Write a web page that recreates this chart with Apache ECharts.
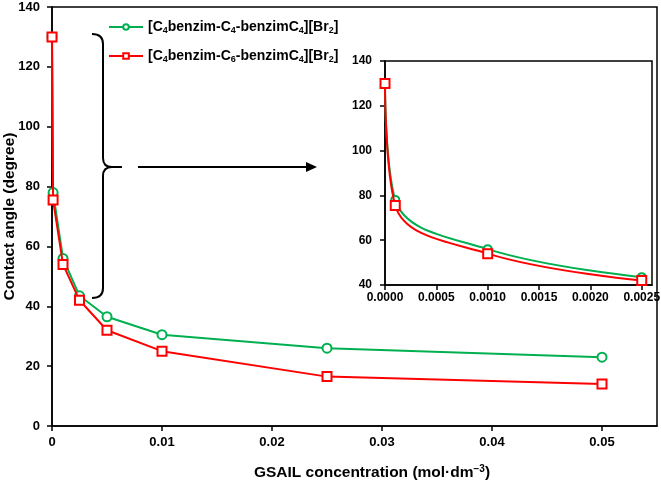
<!DOCTYPE html>
<html>
<head>
<meta charset="utf-8">
<script src="https://cdn.jsdelivr.net/npm/echarts@6/dist/echarts.min.js"></script>
<style>html,body{margin:0;padding:0;background:#fff}#c{width:661px;height:481px}</style>
</head>
<body>
<div id="c"></div>
<script>
// Data
const xConc = [0, 0.0001, 0.001, 0.0025, 0.005, 0.01, 0.025, 0.05];
const angleC4 = [130, 78, 56, 43.5, 36.5, 30.5, 26, 23];
const angleC6 = [130, 75.5, 54, 42, 32, 25, 16.5, 14];
const insetCount = 4;
const mainYTicks = [0, 20, 40, 60, 80, 100, 120, 140];
const mainXTicks = [0, 0.01, 0.02, 0.03, 0.04, 0.05];
const insetYTicks = [40, 60, 80, 100, 120, 140];
const insetXTicks = [0, 0.0005, 0.001, 0.0015, 0.002, 0.0025];
const seriesNames = ['C4', 'C6'];

const GREEN = '#00B050';
const RED = '#FF0000';
const FONT = 'Liberation Sans, Arial, sans-serif';

const pairs = (xs, ys, n) => xs.slice(0, n).map((x, i) => [x, ys[i]]);

const chart = echarts.init(document.getElementById('c'), null, {renderer: 'canvas'});

const axisCommon = {
  axisLine: {show: true, onZero: false, lineStyle: {color: '#000', width: 1.5}},
  axisTick: {show: true, inside: false, length: 5, lineStyle: {color: '#000', width: 1.5}},
  splitLine: {show: false}
};

const legendRich = {
  m: {fontSize: 14, fontWeight: 'bold', fontFamily: FONT, color: '#000', lineHeight: 16},
  s: {fontSize: 9, fontWeight: 'bold', fontFamily: FONT, color: '#000', lineHeight: 10, verticalAlign: 'bottom'}
};

const legendLabel = {
  C4: '{m|[C}{s|4}{m|benzim-C}{s|4}{m|-benzimC}{s|4}{m|][Br}{s|2}{m|]}',
  C6: '{m|[C}{s|4}{m|benzim-C}{s|6}{m|-benzimC}{s|4}{m|][Br}{s|2}{m|]}'
};

const stroke = {stroke: '#000', lineWidth: 2, fill: null};
const bez = (x1, y1, cx, cy, x2, y2) => ({type: 'bezierCurve', z: 10, silent: true,
  shape: {x1, y1, cpx1: cx, cpy1: cy, x2, y2}, style: stroke});
const seg = (x1, y1, x2, y2) => ({type: 'line', z: 10, silent: true, shape: {x1, y1, x2, y2}, style: stroke});

const gridCommon = {show: true, borderColor: '#000', borderWidth: 1.5, containLabel: false, outerBoundsMode: 'none'};

const option = {
  backgroundColor: '#fff',
  animation: false,
  grid: [
    Object.assign({left: 52, top: 7, right: 4, bottom: 55, backgroundColor: 'transparent'}, gridCommon),
    Object.assign({left: 385, top: 61, right: 9, bottom: 196, backgroundColor: '#fff'}, gridCommon)
  ],
  legend: {
    data: seriesNames,
    orient: 'vertical',
    left: 108,
    top: 20,
    padding: 0,
    itemWidth: 34,
    itemHeight: 7,
    itemGap: 14,
    formatter: n => legendLabel[n],
    textStyle: {rich: legendRich}
  },
  xAxis: [
    Object.assign({}, axisCommon, {
      type: 'value', gridIndex: 0, min: 0, max: 0.055, interval: 0.01,
      axisLabel: {color: '#000', fontSize: 13, fontWeight: 'bold', fontFamily: FONT, margin: 10, showMaxLabel: false,
        formatter: v => mainXTicks.some(t => Math.abs(t - v) < 1e-9) ? String(+v.toFixed(4)) : ''},
      name: '{a|GSAIL concentration (mol·dm}{b|−3}{a|)}',
      nameLocation: 'middle',
      nameGap: 38,
      nameMoveOverlap: false,
      nameTextStyle: {
        padding: [0, 0, 0, 35],
        rich: {
          a: {fontSize: 15.5, fontWeight: 'bold', fontFamily: FONT, color: '#000', lineHeight: 18},
          b: {fontSize: 10, fontWeight: 'bold', fontFamily: FONT, color: '#000', lineHeight: 12, verticalAlign: 'top'}
        }
      }
    }),
    Object.assign({}, axisCommon, {
      type: 'value', gridIndex: 1, min: 0, max: 0.0026, interval: 0.0005,
      axisLabel: {color: '#000', fontSize: 12, fontWeight: 'bold', fontFamily: FONT, margin: 7, showMaxLabel: false,
        formatter: v => insetXTicks.some(t => Math.abs(t - v) < 1e-9) ? v.toFixed(4) : ''}
    })
  ],
  yAxis: [
    Object.assign({}, axisCommon, {
      type: 'value', gridIndex: 0, min: 0, max: 140, interval: 20,
      axisLabel: {color: '#000', fontSize: 13, fontWeight: 'bold', fontFamily: FONT, margin: 12,
        formatter: v => mainYTicks.indexOf(v) >= 0 ? String(v) : ''},
      name: 'Contact angle (degree)',
      nameLocation: 'middle',
      nameGap: 34,
      nameMoveOverlap: false,
      nameRotate: 90,
      nameTextStyle: {fontSize: 15.5, fontWeight: 'bold', fontFamily: FONT, color: '#000'}
    }),
    Object.assign({}, axisCommon, {
      type: 'value', gridIndex: 1, min: 40, max: 140, interval: 20,
      axisLabel: {color: '#000', fontSize: 12, fontWeight: 'bold', fontFamily: FONT, margin: 13,
        formatter: v => insetYTicks.indexOf(v) >= 0 ? String(v) : ''}
    })
  ],
  series: [
    {
      name: 'C4', type: 'line', xAxisIndex: 0, yAxisIndex: 0,
      data: pairs(xConc, angleC4, xConc.length),
      symbol: 'emptyCircle', symbolSize: 9,
      lineStyle: {color: GREEN, width: 2},
      itemStyle: {color: GREEN, borderColor: GREEN, borderWidth: 1.5},
      z: 3
    },
    {
      name: 'C6', type: 'line', xAxisIndex: 0, yAxisIndex: 0,
      data: pairs(xConc, angleC6, xConc.length),
      symbol: 'emptyRect', symbolSize: 9,
      lineStyle: {color: RED, width: 2},
      itemStyle: {color: RED, borderColor: RED, borderWidth: 1.5},
      z: 4
    },
    {
      name: 'C4inset', type: 'line', xAxisIndex: 1, yAxisIndex: 1,
      data: pairs(xConc, angleC4, insetCount),
      smooth: 0.4,
      symbol: 'emptyCircle', symbolSize: 8,
      lineStyle: {color: GREEN, width: 2},
      itemStyle: {color: GREEN, borderColor: GREEN, borderWidth: 1.5},
      z: 5
    },
    {
      name: 'C6inset', type: 'line', xAxisIndex: 1, yAxisIndex: 1,
      data: pairs(xConc, angleC6, insetCount),
      smooth: 0.4,
      symbol: 'emptyRect', symbolSize: 9,
      lineStyle: {color: RED, width: 2},
      itemStyle: {color: RED, borderColor: RED, borderWidth: 1.5},
      z: 6
    }
  ],
  graphic: [
    bez(92, 34, 103, 34, 103, 44),
    seg(103, 44, 103, 158),
    bez(103, 158, 103, 167, 112, 167),
    seg(112, 167, 122, 167),
    bez(112, 167, 103, 167, 103, 176),
    seg(103, 176, 103, 288),
    bez(103, 288, 103, 298, 92, 298),
    seg(138, 167, 308, 167),
    {
      type: 'polygon', z: 10, silent: true,
      shape: {points: [[306, 162], [317, 167], [306, 172]]},
      style: {fill: '#000'}
    }
  ]
};

chart.setOption(option);
</script>
</body>
</html>
